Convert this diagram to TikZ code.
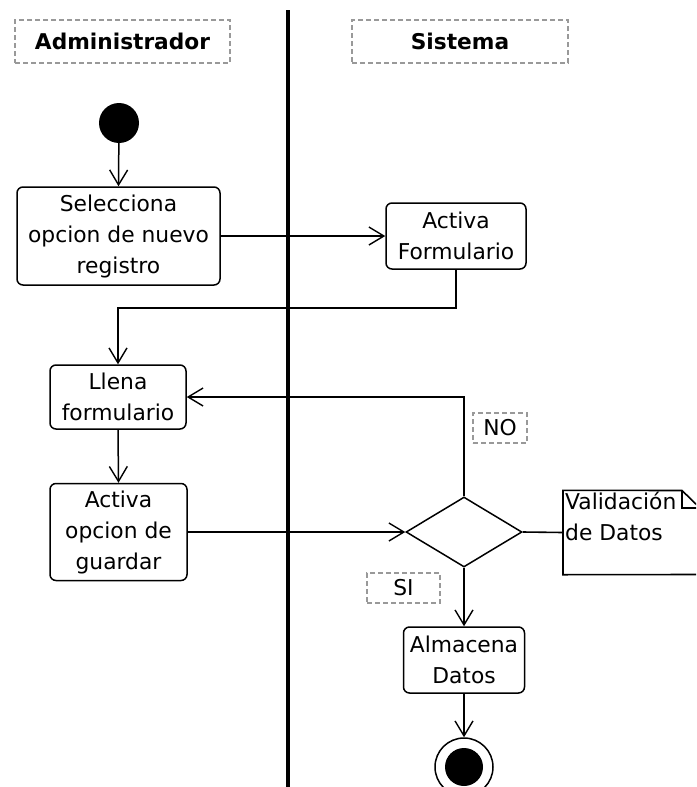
\documentclass[tikz,border=0pt]{standalone}
\usepackage{fontspec}
\setmainfont{DejaVu Sans}
\usetikzlibrary{arrows.meta,shapes.geometric}
\begin{document}
\begin{tikzpicture}[x=1pt,y=-1pt,
  every node/.style={font=\fontsize{21.8}{31}\selectfont, align=center, inner sep=0pt},
  action/.style={draw, line width=1.5pt, rounded corners=6pt},
  tag/.style={draw=black!40, dashed, dash pattern=on 5pt off 3pt, line width=1.3pt},
  lanehead/.style={tag, font=\fontsize{21.7}{26}\selectfont\bfseries},
  flow/.style={line width=1.5pt, -{Straight Barb[length=15pt,width=18pt,line width=1.4pt]}},
  link/.style={line width=1.6pt}]
  \clip (0,0) rectangle (696,787);
  \fill[white] (0,0) rectangle (696,787);

  % swimlane headers and divider
  \node[lanehead, minimum width=215, minimum height=43] (hadm) at (122.5,41.5) {Administrador};
  \node[lanehead, minimum width=216, minimum height=43] (hsis) at (460,41.5) {Sistema};
  \coordinate (divtop) at (288,10);
  \coordinate (divbot) at (288,790);
  \draw[line width=3.5pt] (divtop) -- (divbot);

  % activities
  \node[circle, fill=black, minimum size=40] (start) at (119,123) {};
  \node[action, minimum width=203, minimum height=98] (sel) at (118.5,236) {Selecciona\\opcion de nuevo\\registro};
  \node[action, minimum width=140, minimum height=66] (af) at (456,236) {Activa\\Formulario};
  \node[action, minimum width=136, minimum height=64] (llena) at (118,397) {Llena\\formulario};
  \node[action, minimum width=137, minimum height=97] (guard) at (118.5,532) {Activa\\opcion de\\guardar};
  \node[diamond, draw, line width=1.5pt, minimum width=116, minimum height=70] (dec) at (464,532) {};
  \node[action, minimum width=121, minimum height=66] (alm) at (464,660) {Almacena\\Datos};
  \node[circle, draw, line width=1.5pt, minimum size=58] (fin) at (464,767) {};
  \node[circle, fill=black, minimum size=38] (fincore) at (fin.center) {};

  % guard labels
  \node[tag, minimum width=54, minimum height=30] (no) at (500,428) {NO};
  \node[tag, minimum width=73, minimum height=30] (si) at (403.5,588) {SI};

  % note attached to the decision (its right edge runs past the frame)
  \node[anchor=west, minimum width=137, minimum height=84] (note) at (563,532.5) {};
  \node[anchor=north west, align=left] (notetext) at ([xshift=2pt,yshift=-2pt]note.north west)
        {Validación\\de Datos};
  \draw[line width=1.6pt] (note.north west) -- (682,490.5) -- (700,508) -- (700,574.5)
        -- (note.south west) -- cycle;
  \draw[line width=1.3pt] (682,490.5) -- (682,508) -- (700,508);

  % control flow
  \coordinate (bendy) at (0,308);
  \draw[flow] (start) -- (sel.north);
  \draw[flow] (sel.east) -- (af.west);
  \draw[flow] (af.south) -- (af.south |- bendy) -| (llena.north);
  \draw[flow] (llena.south) -- (guard.north);
  \draw[flow] (guard.east) -- (dec.west);
  \draw[flow] (dec.north) |- (llena.east);
  \draw[flow] (dec.south) -- (alm.north);
  \draw[flow] (alm.south) -- (fin.north);
  \draw[link] (dec.east) -- (note.west);
\end{tikzpicture}
\end{document}
